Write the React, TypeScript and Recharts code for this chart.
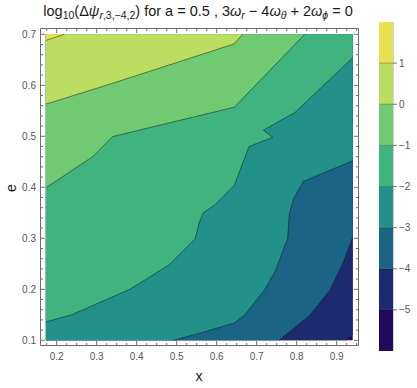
import React from 'react';
import { ComposedChart, Area, Line, XAxis, YAxis, BarChart, Bar, ReferenceLine, ReferenceArea } from 'recharts';

// data edges of the contour grid
const xMin = 0.173;
const xMax = 0.94;
const eMin = 0.1;
const eMax = 0.7;

// contour lines as [x, e]
const contourM5 = [[0.925, 0.1], [0.94, 0.112]];
const contourM4 = [[0.756, 0.1], [0.833, 0.149], [0.883, 0.198], [0.915, 0.25], [0.931, 0.283], [0.94, 0.302]];
const contourM3 = [[0.4915, 0.1], [0.558, 0.114], [0.644, 0.134], [0.669, 0.149], [0.719, 0.198], [0.746, 0.235], [0.769, 0.283], [0.7775, 0.299], [0.7815, 0.348], [0.793, 0.379], [0.8166, 0.4116], [0.94, 0.452]];
const contourM2 = [[0.173, 0.136], [0.2375, 0.15], [0.383, 0.2], [0.4815, 0.248], [0.546, 0.299], [0.5565, 0.331], [0.5665, 0.35], [0.596, 0.366], [0.644, 0.404], [0.681, 0.48], [0.74, 0.498], [0.7166, 0.512], [0.796, 0.547], [0.94, 0.654]];
const contourM1 = [[0.173, 0.399], [0.2915, 0.461], [0.34, 0.4995], [0.644, 0.557], [0.82, 0.7]];
const contour0 = [[0.173, 0.563], [0.34, 0.604], [0.643, 0.681], [0.665, 0.7]];
const contour1 = [[0.173, 0.688], [0.219, 0.7]];

const contours = [contourM5, contourM4, contourM3, contourM2, contourM1, contour0, contour1];
const levels = [-5, -4, -3, -2, -1, 0, 1];
const bandColors = ['#220b5c', '#1c2a70', '#1a6586', '#22918a', '#3fb47f', '#6fca72', '#bcde60', '#e8e250'];

const xMajorTicks = [0.2, 0.3, 0.4, 0.5, 0.6, 0.7, 0.8, 0.9];
const xMinorTicks = [0.175, 0.225, 0.25, 0.275, 0.325, 0.35, 0.375, 0.425, 0.45, 0.475, 0.525, 0.55, 0.575, 0.625, 0.65, 0.675, 0.725, 0.75, 0.775, 0.825, 0.85, 0.875, 0.925, 0.95];
const eMajorTicks = [0.1, 0.2, 0.3, 0.4, 0.5, 0.6, 0.7];
const eMinorTicks = [0.12, 0.14, 0.16, 0.18, 0.22, 0.24, 0.26, 0.28, 0.32, 0.34, 0.36, 0.38, 0.42, 0.44, 0.46, 0.48, 0.52, 0.54, 0.56, 0.58, 0.62, 0.64, 0.66, 0.68];

const toPts = (arr: number[][]) => arr.map(([x, e]) => ({ x, e }));

// region where the value is above each level: closed against the top edge by the Area
const regions = contours.map(c => {
  const startsAtBottom = c[0][1] === eMin && c[0][0] > xMin;
  return toPts(startsAtBottom ? [[xMin, eMin], ...c] : c);
});
const background = toPts([[xMin, eMin], [xMax, eMin]]);

const frameColor = '#6e6e6e';
const labelColor = '#555';
const font = '"Liberation Sans", Arial, sans-serif';
const isMajor = (v: number, majors: number[]) => majors.some(m => Math.abs(m - v) < 1e-6);

const BottomTick = ({ x, y, payload }: any) => {
  const major = isMajor(payload.value, xMajorTicks);
  return <g>
      <line x1={x} x2={x} y1={y} y2={y - (major ? 4.5 : 2.5)} stroke={frameColor} />
      {major && <text x={x} y={y + 14} textAnchor="middle" fontSize={10} fontFamily={font} fill={labelColor}>{payload.value.toFixed(1)}</text>}
    </g>;
};
const TopTick = ({ x, y, payload }: any) => {
  const major = isMajor(payload.value, xMajorTicks);
  return <line x1={x} x2={x} y1={y} y2={y + (major ? 4.5 : 2.5)} stroke={frameColor} />;
};
const LeftTick = ({ x, y, payload }: any) => {
  const major = isMajor(payload.value, eMajorTicks);
  return <g>
      <line x1={x} x2={x + (major ? 4.5 : 2.5)} y1={y} y2={y} stroke={frameColor} />
      {major && <text x={x - 4.5} y={y + 3.6} textAnchor="end" fontSize={10} fontFamily={font} fill={labelColor}>{payload.value.toFixed(1)}</text>}
    </g>;
};
const RightTick = ({ x, y, payload }: any) => {
  const major = isMajor(payload.value, eMajorTicks);
  return <line x1={x} x2={x - (major ? 4.5 : 2.5)} y1={y} y2={y} stroke={frameColor} />;
};

const xDomain = [0.1595, 0.9545];
const eDomain = [0.0898, 0.71137];
const xTicks = [...xMajorTicks, ...xMinorTicks].sort((a, b) => a - b);
const eTicks = [...eMajorTicks, ...eMinorTicks].sort((a, b) => a - b);

const legendRow = [{ k: 'c', b0: 1, b1: 1, b2: 1, b3: 1, b4: 1, b5: 1, b6: 1, b7: 1 }];
const fmtLevel = (v: number) => String(levels[v - 1]).replace('-', '\u2212');

const Sub = ({ children }: any) => <span style={{ fontSize: 10.5, position: 'relative', top: 3 }}>{children}</span>;

const App = () => {
  return <div style={{ position: 'absolute', left: 0, top: 0, width: 417, height: 388, background: '#fff', fontFamily: font }}>
      <div style={{ position: 'absolute', left: 0, top: 3, width: 396, textAlign: 'center', fontSize: 14.5, lineHeight: '16px', color: '#1a1a1a', whiteSpace: 'nowrap' }}>
        log<Sub>10</Sub>(Δ<i>ψ</i><Sub><i>r</i>,3,−4,2</Sub>) for a = 0.5 , 3<i>ω</i><Sub><i>r</i></Sub> − 4<i>ω</i><Sub><i>θ</i></Sub> + 2<i>ω</i><Sub><i>ϕ</i></Sub> = 0
      </div>
      <div style={{ position: 'absolute', left: 3, top: 178, width: 16, height: 20, lineHeight: '20px', textAlign: 'center', fontSize: 14, color: '#1a1a1a', transform: 'rotate(-90deg)' }}>e</div>
      <div style={{ position: 'absolute', left: 189, top: 366, width: 20, height: 20, lineHeight: '20px', textAlign: 'center', fontSize: 14, color: '#1a1a1a' }}>x</div>

      <div style={{ position: 'absolute', left: 0, top: 0 }}>
        <ComposedChart width={417} height={388} margin={{
        top: 23.5,
        right: 48.5,
        bottom: 12.5,
        left: 10.5
      }}>
          <XAxis xAxisId="b" dataKey="x" type="number" domain={xDomain} allowDataOverflow ticks={xTicks} interval={0} tickSize={0} tickMargin={0} tickLine={false} tick={BottomTick} axisLine={{ stroke: frameColor }} height={30} />
          <XAxis xAxisId="t" dataKey="x" type="number" orientation="top" domain={xDomain} allowDataOverflow ticks={xTicks} interval={0} tickSize={0} tickMargin={0} tickLine={false} tick={TopTick} axisLine={{ stroke: frameColor }} height={5} />
          <YAxis yAxisId="l" dataKey="e" type="number" domain={eDomain} allowDataOverflow ticks={eTicks} interval={0} tickSize={0} tickMargin={0} tickLine={false} tick={LeftTick} axisLine={{ stroke: frameColor }} width={30} />
          <YAxis yAxisId="r" dataKey="e" type="number" orientation="right" domain={eDomain} allowDataOverflow ticks={eTicks} interval={0} tickSize={0} tickMargin={0} tickLine={false} tick={RightTick} axisLine={{ stroke: frameColor }} width={10} />

          <Area xAxisId="b" yAxisId="l" data={background} dataKey="e" type="linear" baseValue={eMax} fill={bandColors[0]} fillOpacity={1} stroke="none" dot={false} activeDot={false} isAnimationActive={false} />
          {regions.map((r, i) => <Area key={'a' + i} xAxisId="b" yAxisId="l" data={r} dataKey="e" type="linear" baseValue={eMax} fill={bandColors[i + 1]} fillOpacity={1} stroke="none" dot={false} activeDot={false} isAnimationActive={false} />)}
          {contours.map((c, i) => <Line key={'l' + i} xAxisId="b" yAxisId="l" data={toPts(c)} dataKey="e" type="linear" stroke="#111" strokeOpacity={0.55} strokeWidth={0.9} dot={false} activeDot={false} isAnimationActive={false} />)}
        </ComposedChart>
      </div>

      <div style={{ position: 'absolute', left: 378.5, top: 21.5 }}>
        <BarChart width={45} height={329} data={legendRow} margin={{
        top: 0,
        right: 0,
        bottom: 0,
        left: 0
      }} barCategoryGap={0} barGap={0}>
          <XAxis dataKey="k" hide />
          <YAxis orientation="right" type="number" domain={[0, 8]} ticks={[1, 2, 3, 4, 5, 6, 7]} interval={0} tickFormatter={fmtLevel} width={31} axisLine={false} tickSize={4} tickMargin={2} tickLine={{ stroke: '#777' }} tick={{ fontSize: 10, fill: labelColor, fontFamily: font, textAnchor: 'start' }} />
          {bandColors.map((c, i) => <Bar key={i} dataKey={'b' + i} stackId="s" fill={c} isAnimationActive={false} />)}
          {[1, 2, 3, 4, 5, 6, 7].map(v => <ReferenceLine key={v} y={v} stroke="#000" strokeOpacity={0.3} />)}
          <ReferenceArea y1={0} y2={8} fill="none" stroke="#a8a8a8" />
        </BarChart>
      </div>
    </div>;
};

export default App;
